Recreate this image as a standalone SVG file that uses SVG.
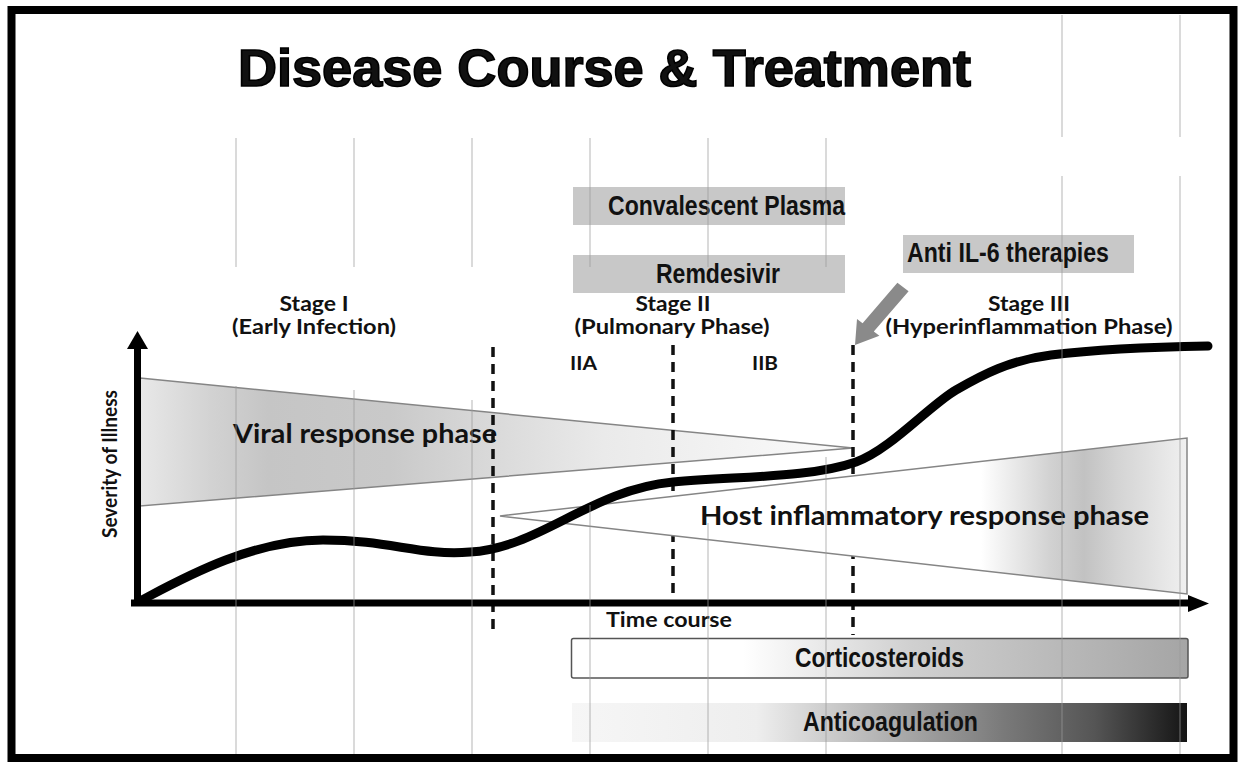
<svg xmlns="http://www.w3.org/2000/svg" width="1238" height="762" viewBox="0 0 1238 762">
<style>
.stage{font-family:Lato,"Open Sans","Liberation Sans",sans-serif;font-weight:700;font-size:21px;fill:#111}
.phase{font-family:Lato,"Open Sans","Liberation Sans",sans-serif;font-weight:700;font-size:27px;fill:#111}
.tx{font-family:"Liberation Sans",Arial,sans-serif;font-weight:700;font-size:27px;fill:#111}
.wedge{stroke:#858585;stroke-width:1.5}
.dash{stroke:#111;stroke-width:3.5;stroke-dasharray:10 7;fill:none}
.art{stroke:#9a9a9a;stroke-width:0.9;opacity:0.8}
</style>
<defs>
<linearGradient id="gViral" gradientUnits="userSpaceOnUse" x1="140" y1="0" x2="853" y2="0">
<stop offset="0" stop-color="#e8e8e8"/><stop offset="0.1" stop-color="#d2d2d2"/><stop offset="0.18" stop-color="#c5c5c5"/><stop offset="0.35" stop-color="#c9c9c9"/><stop offset="0.5" stop-color="#dadada"/><stop offset="0.65" stop-color="#eaeaea"/><stop offset="1" stop-color="#fbfbfb"/>
</linearGradient>
<linearGradient id="gHost" gradientUnits="userSpaceOnUse" x1="500" y1="0" x2="1187" y2="0">
<stop offset="0" stop-color="#ffffff"/><stop offset="0.7" stop-color="#ffffff"/><stop offset="0.8" stop-color="#d2d2d2"/><stop offset="0.85" stop-color="#c2c2c2"/><stop offset="0.9" stop-color="#d4d4d4"/><stop offset="1" stop-color="#f0f0f0"/>
</linearGradient>
<linearGradient id="gCort" gradientUnits="userSpaceOnUse" x1="571" y1="0" x2="1188" y2="0">
<stop offset="0" stop-color="#ffffff"/><stop offset="0.28" stop-color="#ffffff"/><stop offset="0.55" stop-color="#d0d0d0"/><stop offset="1" stop-color="#a5a5a5"/>
</linearGradient>
<linearGradient id="gAnti" gradientUnits="userSpaceOnUse" x1="572" y1="0" x2="1187" y2="0">
<stop offset="0" stop-color="#f6f6f6"/><stop offset="0.3" stop-color="#eeeeee"/><stop offset="0.5" stop-color="#b4b4b4"/><stop offset="0.7" stop-color="#7a7a7a"/><stop offset="0.85" stop-color="#555555"/><stop offset="1" stop-color="#151515"/>
</linearGradient>
</defs>
<rect x="0" y="0" width="1238" height="762" fill="#ffffff"/>
<rect id="frame" x="11.5" y="10" width="1222" height="748" fill="none" stroke="#000" stroke-width="8"/>
<g id="title"><text x="238" y="86" class="tx" style="font-size:51px" stroke="#000" stroke-width="1.6" textLength="733" lengthAdjust="spacingAndGlyphs">Disease Course &amp; Treatment</text></g>

<g id="convalescent-plasma"><rect x="573" y="187" width="272" height="38" fill="#c8c8c8"/><text x="608" y="215" class="tx" textLength="237" lengthAdjust="spacingAndGlyphs">Convalescent Plasma</text></g>
<g id="remdesivir"><rect x="573" y="255" width="272" height="38" fill="#c8c8c8"/><text x="656" y="283" class="tx" textLength="124" lengthAdjust="spacingAndGlyphs">Remdesivir</text></g>
<g id="anti-il6"><rect x="903" y="235" width="231" height="38" fill="#c8c8c8"/><text x="907" y="262" class="tx" textLength="202" lengthAdjust="spacingAndGlyphs">Anti IL-6 therapies</text></g>

<g id="stage-labels">
<text x="314" y="311" class="stage" text-anchor="middle" textLength="69" lengthAdjust="spacingAndGlyphs">Stage I</text>
<text x="314" y="334" class="stage" text-anchor="middle" textLength="164" lengthAdjust="spacingAndGlyphs">(Early Infection)</text>
<text x="673" y="311" class="stage" text-anchor="middle" textLength="75" lengthAdjust="spacingAndGlyphs">Stage II</text>
<text x="672" y="334" class="stage" text-anchor="middle" textLength="195" lengthAdjust="spacingAndGlyphs">(Pulmonary Phase)</text>
<text x="1029" y="311" class="stage" text-anchor="middle" textLength="82" lengthAdjust="spacingAndGlyphs">Stage III</text>
<text x="1029" y="334" class="stage" text-anchor="middle" textLength="287" lengthAdjust="spacingAndGlyphs">(Hyperinflammation Phase)</text>
<text x="570" y="370" class="stage" style="font-size:18px" textLength="27" lengthAdjust="spacingAndGlyphs">IIA</text>
<text x="752" y="370" class="stage" style="font-size:18px" textLength="26" lengthAdjust="spacingAndGlyphs">IIB</text>
</g>

<g id="viral-response-phase">
<polygon points="140,378 853,448 140,506" fill="url(#gViral)" class="wedge"/>
<text x="233" y="443" class="phase" textLength="264" lengthAdjust="spacingAndGlyphs">Viral response phase</text>
</g>

<g id="connectors">
<line x1="493" y1="347" x2="493" y2="635" class="dash"/>
<line x1="673" y1="345" x2="673" y2="605" class="dash"/>
<line x1="853" y1="345" x2="853" y2="635" class="dash"/>
<polygon id="il6-arrow" points="897.4,282.8 908.6,291.2 873.8,331.6 879.4,335.8 855,345 857,319 862.6,323.2" fill="#8a8a8a"/>
</g>

<g id="host-inflammatory-response-phase">
<polygon points="500,516 1187,438 1187,594" fill="url(#gHost)" class="wedge"/>
<text x="700" y="525" class="phase" textLength="449" lengthAdjust="spacingAndGlyphs">Host inflammatory response phase</text>
</g>

<g id="axes">
<line x1="137.5" y1="606" x2="137.5" y2="345" stroke="#000" stroke-width="7"/>
<polygon points="127,349 148,349 137.5,331" fill="#000"/>
<line x1="131" y1="603" x2="1192" y2="603" stroke="#000" stroke-width="7"/>
<polygon points="1188,595 1188,612 1209,603.5" fill="#000"/>
<text transform="translate(117,464) rotate(-90)" x="0" y="0" class="stage" style="font-size:20px" text-anchor="middle" textLength="148" lengthAdjust="spacingAndGlyphs">Severity of Illness</text>
<text x="606" y="627" class="stage" style="font-size:20px" textLength="126" lengthAdjust="spacingAndGlyphs">Time course</text>
</g>

<g id="severity-curve">
<path d="M140,601 C180,580 250,540 323,540 C390,540 420,556 470,552 C540,548 590,490 673,482 C740,476 810,478 856,462 C890,450 930,405 956,390 C982,375 1010,360 1051,355 C1100,349 1150,347 1208,346" fill="none" stroke="#000" stroke-width="9" stroke-linecap="round"/>
</g>

<g id="corticosteroids"><rect x="571.5" y="638.5" width="616.5" height="39.5" rx="2" fill="url(#gCort)" stroke="#555" stroke-width="1.5"/><text x="795" y="667" class="tx" textLength="169" lengthAdjust="spacingAndGlyphs">Corticosteroids</text></g>
<g id="anticoagulation"><rect x="572" y="703" width="615" height="39" fill="url(#gAnti)"/><text x="803" y="731" class="tx" textLength="175" lengthAdjust="spacingAndGlyphs">Anticoagulation</text></g>

<g id="scan-lines">
<line x1="1062" y1="15" x2="1062" y2="137" class="art"/><line x1="1180" y1="15" x2="1180" y2="137" class="art"/>
<line x1="1062" y1="176" x2="1062" y2="754" class="art"/><line x1="1180" y1="176" x2="1180" y2="754" class="art"/>
<line x1="236" y1="138" x2="236" y2="267" class="art"/><line x1="354" y1="138" x2="354" y2="267" class="art"/><line x1="472" y1="138" x2="472" y2="267" class="art"/>
<line x1="590" y1="138" x2="590" y2="267" class="art"/><line x1="708" y1="138" x2="708" y2="267" class="art"/><line x1="826" y1="138" x2="826" y2="267" class="art"/>
<line x1="236" y1="386" x2="236" y2="754" class="art"/><line x1="354" y1="390" x2="354" y2="754" class="art"/><line x1="472" y1="400" x2="472" y2="754" class="art"/>
<line x1="590" y1="505" x2="590" y2="754" class="art"/><line x1="708" y1="523" x2="708" y2="754" class="art"/><line x1="826" y1="457" x2="826" y2="754" class="art"/>
</g>
</svg>
